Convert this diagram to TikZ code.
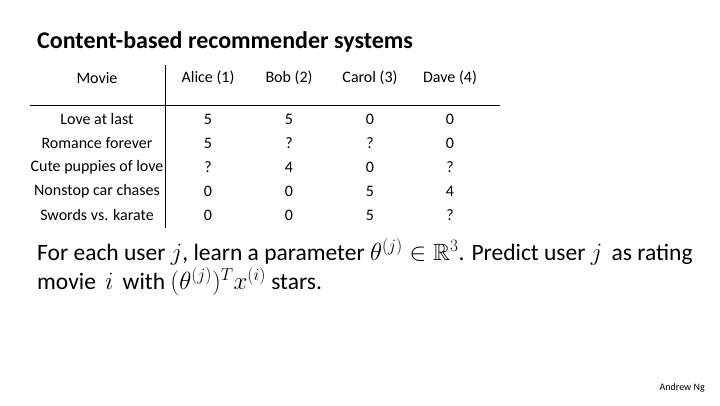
\documentclass[tikz,border=0pt]{standalone}
\usepackage{amssymb}
\usepackage{fontspec}
\setmainfont{Carlito}
\begin{document}
\begin{tikzpicture}[x=1pt,y=-1pt,
  cell/.style={font=\fontsize{16}{18}\selectfont,anchor=center,inner sep=0pt},
  body/.style={font=\fontsize{23.5}{26}\selectfont,anchor=west,inner sep=0pt}]
\useasboundingbox[fill=white] (0,0) rectangle (720,405);
\node[font=\fontsize{24}{28}\selectfont\bfseries,anchor=west,inner sep=0pt] (title) at (37,42) {Content-based recommender systems};
\coordinate (vt) at (165,65); \coordinate (vb) at (165,228);
\coordinate (hl) at (30,105); \coordinate (hr) at (500,105);
\draw[line width=1pt] (vt) -- (vb);
\draw[line width=1pt] (hl) -- (hr);
\node[cell] (h0) at (97,78) {Movie};
\node[cell] (h1) at (208,78) {Alice (1)};
\node[cell] (h2) at (289,78) {Bob (2)};
\node[cell] (h3) at (370,78) {Carol (3)};
\node[cell] (h4) at (450,78) {Dave (4)};
\foreach \n/\y/\a/\b/\c/\d [count=\i] in {Love at last/119/5/5/0/0, Romance forever/143/5/?/?/0, Cute puppies of love/167/?/4/0/?, Nonstop car chases/191/0/0/5/4, Swords vs. karate/215/0/0/5/?}{
  \node[cell] (m\i) at (97,\y) {\n};
  \node[cell] (a\i) at (208,\y) {\a};
  \node[cell] (b\i) at (289,\y) {\b};
  \node[cell] (c\i) at (370,\y) {\c};
  \node[cell] (d\i) at (450,\y) {\d};
}
\node[body] (l1) at (37,252) {For each user $j$, learn a parameter $\theta^{(j)}\in\mathbb{R}^3$. Predict user $j$\, as rating};
\node[body] (l2) at (37,282) {movie\, $i$\, with $(\theta^{(j)})^T x^{(i)}$ stars.};
\node[font=\fontsize{10}{11}\selectfont,anchor=east,inner sep=0pt] (an) at (705,388) {Andrew Ng};
\end{tikzpicture}
\end{document}
